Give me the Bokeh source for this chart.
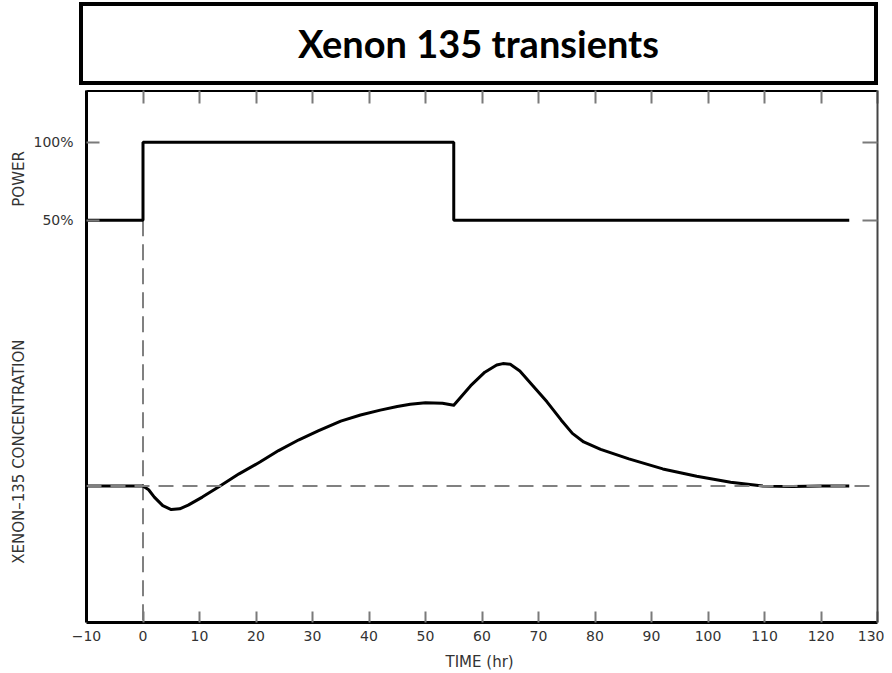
from bokeh.plotting import figure
from bokeh.models import (Range1d, LinearAxis, FixedTicker, Span, Div)
from bokeh.layouts import column
from bokeh.embed import file_html
from bokeh.resources import INLINE

# ---------------- data ----------------
title_text = "Xenon 135 transients"

power_time = [-10, 0, 0, 55, 55, 125]
power_pct = [50, 50, 100, 100, 50, 50]

xenon_time = [-10, 0, 1, 2, 3.5, 5, 6.5, 8, 10.5, 13.5, 17, 20.7, 24, 27.6, 31, 35, 38.5,
              42, 45, 47.3, 50, 53, 55, 56.5, 58, 60.5, 62.6, 63.7, 65, 66.7, 69, 71.5,
              74, 76, 78, 81, 86, 92, 98, 104, 109.7, 115, 120, 125]
xenon_rel = [1.0, 1.0, 0.985, 0.955, 0.92, 0.904, 0.907, 0.922, 0.955, 0.998, 1.05, 1.098,
             1.145, 1.189, 1.225, 1.265, 1.29, 1.31, 1.325, 1.334, 1.34, 1.338, 1.33, 1.37,
             1.41, 1.465, 1.494, 1.5, 1.497, 1.47, 1.41, 1.344, 1.27, 1.215, 1.18, 1.15,
             1.111, 1.07, 1.04, 1.016, 1.0, 0.998, 1.0, 1.0]

x_ticks = list(range(-10, 140, 10))
x_tick_labels = {t: (("\u2212" + str(-t)) if t < 0 else str(t)) for t in x_ticks}
power_ticks = [50, 100]
power_tick_labels = {50: "50%", 100: "100%"}

power_label = "POWER"
power_label_at = 76.5          # power units
xenon_label = "XENON\u2013135   CONCENTRATION"
xenon_label_at = 1.16          # relative xenon units

step_up_time = 0
ref_power = 50
xenon_baseline = 1.0

power_range = (-207.5, 133.1)
xenon_range = (0.443, 2.615)
time_range = (-10, 130)

# map the xenon label position into the power scale (same frame)
xenon_label_in_power = round(power_range[0] + (xenon_label_at - xenon_range[0])
                             / (xenon_range[1] - xenon_range[0])
                             * (power_range[1] - power_range[0]), 3)

# ---------------- figure ----------------
tick_col = "#7a7a7a"
text_col = "#333333"

p = figure(width=884, height=583, output_backend="svg", toolbar_location=None,
           x_range=Range1d(*time_range), y_range=Range1d(*power_range),
           x_axis_location=None, y_axis_location=None,
           min_border_left=86, min_border_right=7, min_border_top=0, min_border_bottom=49)
p.extra_y_ranges = {"xenon": Range1d(*xenon_range)}
p.xgrid.visible = False
p.ygrid.visible = False
p.outline_line_color = None
p.background_fill_color = "white"
p.border_fill_color = "white"


def no_minor(ax):
    ax.minor_tick_in = 0
    ax.minor_tick_out = 0


# bottom axis
xb = LinearAxis(ticker=FixedTicker(ticks=x_ticks), major_label_overrides=x_tick_labels,
                axis_label="TIME  (hr)")
no_minor(xb)
xb.major_tick_in = 11
xb.major_tick_out = 0
xb.major_tick_line_color = tick_col
xb.major_tick_line_width = 2
xb.axis_line_color = "black"
xb.axis_line_width = 3
xb.major_label_standoff = 8
xb.major_label_text_font = "DejaVu Sans"
xb.major_label_text_font_size = "14px"
xb.major_label_text_color = text_col
xb.axis_label_text_font = "DejaVu Sans"
xb.axis_label_text_font_style = "normal"
xb.axis_label_text_font_size = "15px"
xb.axis_label_text_color = text_col
xb.axis_label_standoff = 9
p.add_layout(xb, "below")

# top axis (ticks only)
xt = LinearAxis(ticker=FixedTicker(ticks=x_ticks), major_label_overrides={t: "" for t in x_ticks})
no_minor(xt)
xt.major_tick_in = 13
xt.major_tick_out = 0
xt.major_tick_line_color = tick_col
xt.major_tick_line_width = 2
xt.axis_line_color = "black"
xt.axis_line_width = 3
xt.major_label_standoff = 0
xt.major_label_text_font_size = "1px"
p.add_layout(xt, "above")

# left axis (power)
yl = LinearAxis(ticker=FixedTicker(ticks=power_ticks), major_label_overrides=power_tick_labels)
no_minor(yl)
yl.major_tick_in = 13
yl.major_tick_out = 0
yl.major_tick_line_color = tick_col
yl.major_tick_line_width = 2
yl.axis_line_color = "black"
yl.axis_line_width = 3
yl.major_label_standoff = 13
yl.major_label_text_font = "DejaVu Sans"
yl.major_label_text_font_size = "14px"
yl.major_label_text_color = text_col
p.add_layout(yl, "left")

# outer left axis carrying the two section titles
yt = LinearAxis(ticker=FixedTicker(ticks=[power_label_at, xenon_label_in_power]),
                major_label_overrides={power_label_at: power_label,
                                       xenon_label_in_power: xenon_label})
no_minor(yt)
yt.major_tick_in = 0
yt.major_tick_out = 0
yt.axis_line_color = None
yt.major_tick_line_color = None
yt.major_label_orientation = "parallel"
yt.major_label_standoff = 2
yt.major_label_text_font = "DejaVu Sans"
yt.major_label_text_font_size = "15px"
yt.major_label_text_color = text_col
p.add_layout(yt, "left")

# right axis (ticks only)
yr = LinearAxis(ticker=FixedTicker(ticks=power_ticks), major_label_overrides={t: "" for t in power_ticks})
no_minor(yr)
yr.major_tick_in = 15
yr.major_tick_out = 0
yr.major_tick_line_color = tick_col
yr.major_tick_line_width = 2
yr.axis_line_color = "#444444"
yr.axis_line_width = 2
yr.major_label_standoff = 0
yr.major_label_text_font_size = "1px"
p.add_layout(yr, "right")

# dashed reference lines
p.add_layout(Span(location=xenon_baseline, dimension="width", y_range_name="xenon",
                  line_color="#808080", line_width=2, line_dash="15 9"))
p.segment(x0=[step_up_time], y0=[ref_power], x1=[step_up_time], y1=[power_range[0]],
          line_color="#808080", line_width=2, line_dash="16 8")

# curves
p.line(power_time, power_pct, line_color="black", line_width=3)
p.line(xenon_time, xenon_rel, y_range_name="xenon", line_color="black", line_width=3,
       line_join="round")

# title box
title_html = (
    '<div style="position:absolute; left:74px; top:-3px; width:799px; height:83px; '
    'box-sizing:border-box; border:4px solid #000; background:#fff; display:flex; '
    'align-items:center; justify-content:center; font-family:Lato, sans-serif; '
    'font-weight:bold; font-size:38px; color:#000;">' + title_text + '</div>'
)
title_div = Div(text=title_html, width=884, height=80)

layout = column(title_div, p, spacing=0)
open("out.html", "w").write(file_html(layout, INLINE))
